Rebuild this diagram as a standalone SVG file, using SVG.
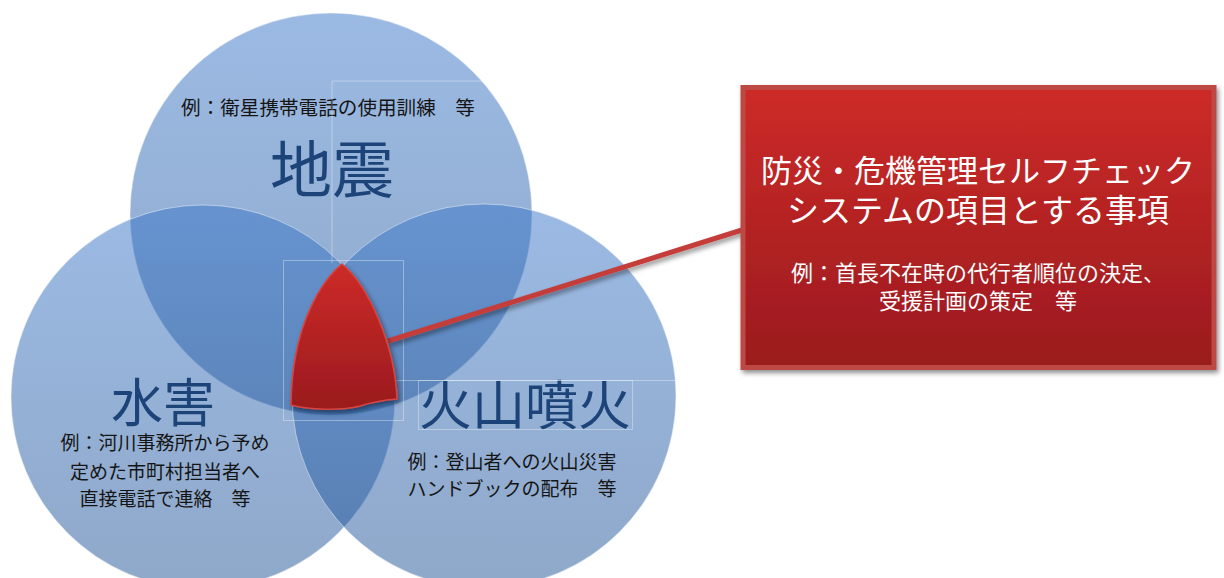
<svg xmlns="http://www.w3.org/2000/svg" width="1224" height="578" viewBox="0 0 1224 578">
  <style>
    .circ { fill: url(#blueGrad); fill-opacity: 0.5; stroke: #ffffff; stroke-opacity: 0.45; stroke-width: 1; }
    .big { font-family: "Noto Sans CJK JP", "Noto Sans CJK SC", sans-serif; fill: #1c4479; text-anchor: middle; }
    .ex { font-family: "Noto Sans CJK JP", "Noto Sans CJK SC", sans-serif; fill: #151515; font-size: 19px; text-anchor: middle; }
    .wt { font-family: "Noto Sans CJK JP", "Noto Sans CJK SC", sans-serif; fill: #ffffff; text-anchor: middle; }
    .guide { fill: none; stroke: #ffffff; stroke-opacity: 0.35; stroke-width: 1; }
  </style>
  <defs>
    <linearGradient id="blueGrad" x1="0" y1="0" x2="0" y2="1">
      <stop offset="0" stop-color="#3875c8"/>
      <stop offset="1" stop-color="#1f5294"/>
    </linearGradient>
    <linearGradient id="redGrad" x1="0" y1="0" x2="0" y2="1">
      <stop offset="0" stop-color="#cd2b28"/>
      <stop offset="1" stop-color="#9a1a1e"/>
    </linearGradient>
    <filter id="shadow" x="-20%" y="-20%" width="150%" height="150%">
      <feGaussianBlur in="SourceAlpha" stdDeviation="2.5"/>
      <feOffset dx="2" dy="3" result="b"/>
      <feComponentTransfer><feFuncA type="linear" slope="0.45"/></feComponentTransfer>
      <feMerge><feMergeNode/><feMergeNode in="SourceGraphic"/></feMerge>
    </filter>
  </defs>

  <rect width="1224" height="578" fill="#ffffff"/>

  <g id="node-earthquake">
    <circle class="circ" cx="331" cy="214" r="201"/>
    <text class="ex" x="328" y="115" font-size="19.6" style="font-size:19.6px">例：衛星携帯電話の使用訓練　等</text>
    <text class="big" x="332" y="193" font-size="62">地震</text>
  </g>

  <g id="node-flood">
    <circle class="circ" cx="203" cy="397" r="192"/>
    <text class="big" x="163" y="422" font-size="52">水害</text>
    <text class="ex" x="165" y="450">例：河川事務所から予め</text>
    <text class="ex" x="165" y="479">定めた市町村担当者へ</text>
    <text class="ex" x="165" y="506">直接電話で連絡　等</text>
  </g>

  <g id="node-volcano">
    <circle class="circ" cx="484" cy="396" r="192"/>
    <text class="big" x="525" y="425" font-size="53">火山噴火</text>
    <text class="ex" x="512" y="469">例：登山者への火山災害</text>
    <text class="ex" x="512" y="496">ハンドブックの配布　等</text>
  </g>

  <g id="guides">
    <polyline class="guide" points="332,263 332,81 484,81"/>
    <rect class="guide" x="283.5" y="260.5" width="120" height="160"/>
    <line class="guide" x1="397" y1="380.5" x2="677" y2="380.5"/>
    <rect class="guide" x="418.5" y="380.5" width="214" height="49"/>
  </g>

  <g id="connectors">
    <line x1="388" y1="341" x2="742" y2="230" stroke="#c43e3a" stroke-width="5" filter="url(#shadow)"/>
  </g>

  <g id="node-intersection">
    <path d="M342,264 C325,278 292,320 291,405 C310,410 340,411 360,406 C372,402 385,400 397,399 C395,345 368,285 342,264 Z" fill="url(#redGrad)" stroke="#d8453f" stroke-width="1.5" filter="url(#shadow)"/>
  </g>

  <g id="node-selfcheck">
    <rect x="743" y="87.5" width="471" height="280" fill="url(#redGrad)" stroke="#bd4845" stroke-width="5" filter="url(#shadow)"/>
    <text class="wt" x="978" y="182" font-size="31">防災・危機管理セルフチェック</text>
    <text class="wt" x="978" y="222" font-size="32">システムの項目とする事項</text>
    <text class="wt" x="978" y="281" font-size="22">例：首長不在時の代行者順位の決定、</text>
    <text class="wt" x="978" y="309" font-size="22">受援計画の策定　等</text>
  </g>
</svg>
